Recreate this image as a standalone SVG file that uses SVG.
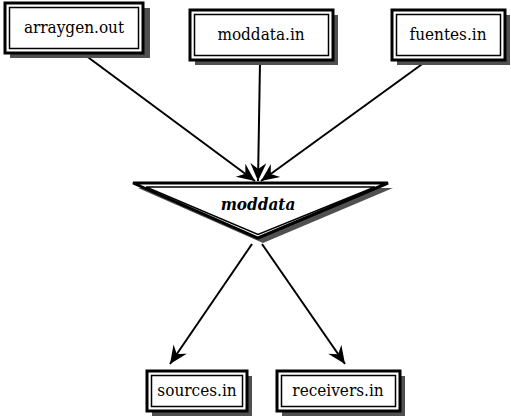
<svg xmlns="http://www.w3.org/2000/svg" width="511" height="418" viewBox="0 0 511 418">
<style>
.sh{fill:#505050;stroke:none}
.ob{fill:#fff;stroke:#000;stroke-width:3}
.ib{fill:none;stroke:#000;stroke-width:1.5}
text{font-family:"DejaVu Serif Condensed","DejaVu Serif",serif;font-stretch:condensed;fill:#000;text-anchor:middle}
.t{font-size:17px}
.ti{font-size:17px;font-style:italic;font-weight:bold}
.c{stroke:#000;stroke-width:2;fill:none;marker-end:url(#ah)}
</style>
<defs>
<marker id="ah" markerUnits="userSpaceOnUse" viewBox="-20 -10 22 20" markerWidth="22" markerHeight="20" refX="0" refY="0" orient="auto">
<path d="M0,0 L-18,-8 L-12,0 L-18,8 Z" fill="#000"/>
</marker>
</defs>
<g id="connectors">
<line class="c" x1="85" y1="55" x2="255" y2="181"/>
<line class="c" x1="260" y1="62" x2="258" y2="181"/>
<line class="c" x1="425" y1="62" x2="261" y2="181"/>
<line class="c" x1="252" y1="244" x2="170" y2="364"/>
<line class="c" x1="262" y1="244" x2="345" y2="364"/>
</g>
<g id="arraygen">
<rect class="sh" x="10" y="8" width="140" height="50"/>
<rect class="ob" x="5" y="3" width="138" height="50"/>
<rect class="ib" x="9.5" y="7.5" width="129" height="41"/>
<text class="t" x="74" y="33">arraygen.out</text>
</g>
<g id="moddata_in">
<rect class="sh" x="195" y="15" width="143" height="50"/>
<rect class="ob" x="190" y="10" width="143" height="50"/>
<rect class="ib" x="194.5" y="14.5" width="134" height="41"/>
<text class="t" x="261" y="40">moddata.in</text>
</g>
<g id="fuentes">
<rect class="sh" x="397" y="15" width="113" height="50"/>
<rect class="ob" x="392" y="10" width="113" height="50"/>
<rect class="ib" x="396.5" y="14.5" width="104" height="41"/>
<text class="t" x="448" y="40">fuentes.in</text>
</g>
<g id="moddata">
<polygon class="sh" points="138,188 393,188 263,243"/>
<polygon class="ob" points="133,183 388,183 258,238"/>
<polygon class="ib" points="146,187 375,187 258,234.5"/>
<text class="ti" x="258" y="210">moddata</text>
</g>
<g id="sources">
<rect class="sh" x="152" y="376" width="100" height="40"/>
<rect class="ob" x="147" y="371" width="100" height="40"/>
<rect class="ib" x="151.5" y="375.5" width="91" height="31"/>
<text class="t" x="197" y="396">sources.in</text>
</g>
<g id="receivers">
<rect class="sh" x="282" y="376" width="123" height="40"/>
<rect class="ob" x="277" y="371" width="123" height="40"/>
<rect class="ib" x="281.5" y="375.5" width="114" height="31"/>
<text class="t" x="338" y="396">receivers.in</text>
</g>
</svg>
